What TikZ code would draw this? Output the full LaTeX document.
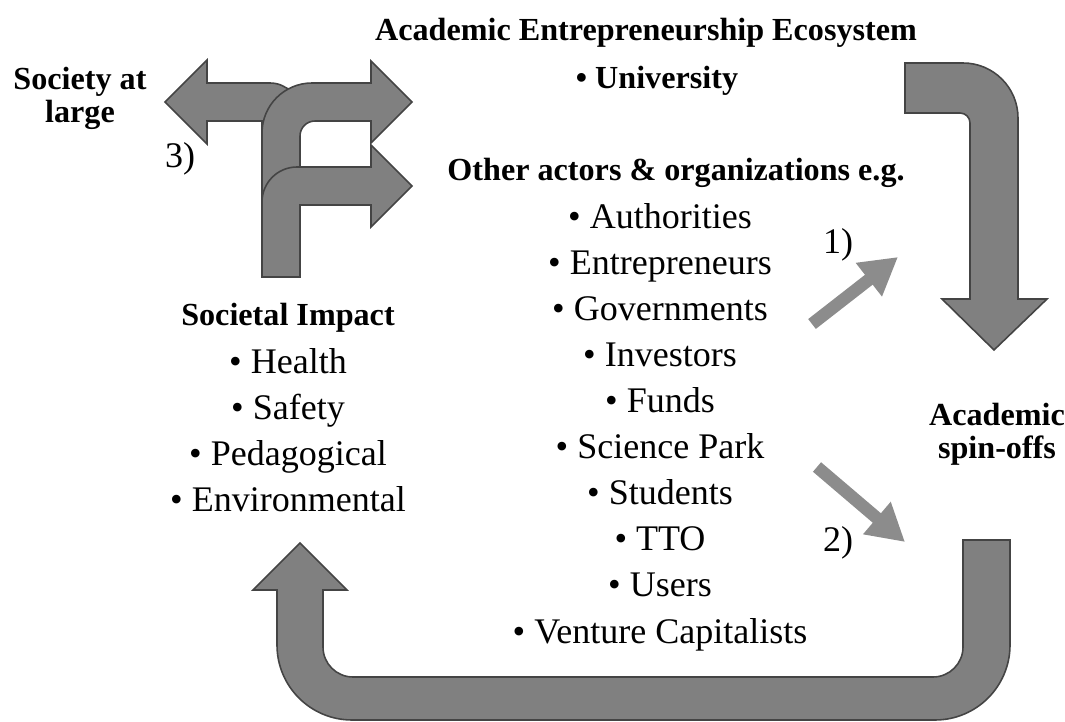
\documentclass[tikz,border=0pt]{standalone}
\usepackage{fontspec}
\setmainfont{Liberation Serif}
\usetikzlibrary{arrows.meta}

\definecolor{bandfill}{RGB}{128,128,128}
\definecolor{bandline}{RGB}{68,68,68}
\definecolor{pointer}{RGB}{140,140,140}

\tikzset{
  txt/.style={font=\fontsize{20.5}{24}\selectfont, inner sep=0pt, anchor=base},
  hd/.style={font=\fontsize{18.3}{18.7}\selectfont\bfseries, inner sep=0pt,
    align=center},
  band/.style={fill=bandfill, draw=bandline, line width=0.9pt, line join=miter},
  pointerarrow/.style={draw=pointer, line width=0.25cm,
    -{Triangle[length=0.74cm, width=0.8cm]}}
}

\begin{document}
\begin{tikzpicture}[x=0.02cm, y=-0.02cm]
  \useasboundingbox (0,0) rectangle (1065,722);

  % Headings
  \node[hd, anchor=base] (eco) at (646,41) {Academic Entrepreneurship Ecosystem};
  \node[hd, anchor=base] (uni) at (657,89) {\textbullet\ University};
  \node[hd, anchor=base] (other) at (676,181) {Other actors \& organizations e.g.};
  \node[hd] (society) at (80,98.5) {Society at\\large};
  \node[hd, anchor=base] (impact) at (288,326) {Societal Impact};
  \node[hd] (spinoff) at (997,434) {Academic\\spin-offs};

  % Actors list
  \foreach \name [count=\i] in {Authorities, Entrepreneurs, Governments,
      Investors, Funds, Science Park, Students, TTO, Users, Venture Capitalists}
    \node[txt] (actor\i) at (660,183+46*\i) {\textbullet\ \name};

  % Impact list
  \foreach \name [count=\i] in {Health, Safety, Pedagogical, Environmental}
    \node[txt] (impact\i) at (288,328+46*\i) {\textbullet\ \name};

  % Step labels
  \node[txt, anchor=center] (step1) at (838,245) {1)};
  \node[txt, anchor=center] (step2) at (838,543) {2)};
  \node[txt, anchor=center] (step3) at (180,159) {3)};

  % Branching arrows towards society
  \filldraw[band] (262,277) -- (262,121) -- (207,121) -- (207,144)
    -- (165,102) -- (207,60) -- (207,83) [rounded corners=0.6cm] -- (300,83)
    [sharp corners] -- (300,277) -- cycle;
  \filldraw[band] (262,277) [rounded corners=1cm] -- (262,83) [sharp corners]
    -- (371,83) -- (371,61) -- (412,102) -- (371,143) -- (371,121)
    [rounded corners=0.3cm] -- (300,121) [sharp corners] -- (300,277) -- cycle;
  \filldraw[band] (262,277) [rounded corners=0.7cm] -- (262,167) [sharp corners]
    -- (371,167) -- (371,145) -- (412,186) -- (371,227) -- (371,205)
    -- (300,205) -- (300,277) -- cycle;

  % Ecosystem down to spin-offs
  \filldraw[band] (905,63) [rounded corners=1.1cm] -- (1018,63) [sharp corners]
    -- (1018,299) -- (1047,299) -- (994,350) -- (942,299) -- (970,299)
    [rounded corners=0.2cm] -- (970,113) [sharp corners] -- (905,113) -- cycle;

  % Spin-offs back to societal impact
  \filldraw[band] (963,540) -- (1010,540) [rounded corners=1.5cm] -- (1010,720)
    -- (277,720) [sharp corners] -- (277,590) -- (253,590) -- (300,543)
    -- (347,590) -- (323,590) [rounded corners=0.6cm] -- (323,677)
    -- (963,677) [sharp corners] -- cycle;

  % Actors pointing to spin-offs
  \coordinate (p1s) at (812,324);
  \coordinate (p1e) at (898,257);
  \coordinate (p2s) at (817,467);
  \coordinate (p2e) at (905,542);
  \draw[pointerarrow] (p1s) -- (p1e);
  \draw[pointerarrow] (p2s) -- (p2e);
\end{tikzpicture}
\end{document}
